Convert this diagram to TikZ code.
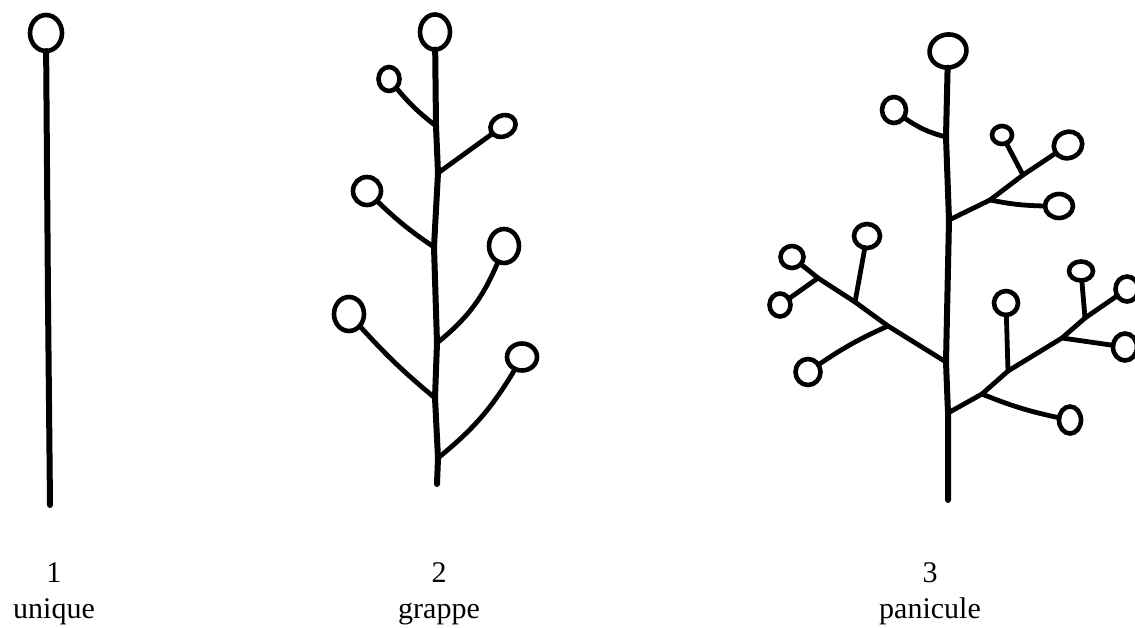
\documentclass[tikz,border=0pt]{standalone}
\usepackage{fontspec}
\setmainfont{Liberation Serif}
\usetikzlibrary{shapes.geometric}

\begin{document}
\begin{tikzpicture}[
    x=0.5pt, y=-0.5pt,
    stem/.style={line width=3pt, line cap=round, line join=round},
    twig/.style={line width=2.4pt, line cap=round},
    bud/.style={ellipse, draw, line width=2.3pt, inner sep=0pt, outer sep=0pt},
    caption/.style={align=center, anchor=base, font=\fontsize{15}{18}\selectfont}
  ]
  \useasboundingbox (0,0) rectangle (1135,627);

  % 1 - single flower
  \node[bud, minimum width=16pt, minimum height=18pt] (u0) at (46,33) {};
  \coordinate (ubase) at (50,505);
  \draw[stem] (u0) -- (48,300) -- (ubase);

  % 2 - raceme
  \node[bud, minimum width=15pt, minimum height=17.5pt] (g0) at (435,32) {};
  \node[bud, minimum width=10.5pt, minimum height=12pt] (g1) at (389,79) {};
  \node[bud, minimum width=13pt, minimum height=10.5pt, rotate=25] (g2) at (503,126) {};
  \node[bud, minimum width=14pt, minimum height=14pt] (g3) at (367,191) {};
  \node[bud, minimum width=15pt, minimum height=17pt] (g4) at (504,246) {};
  \node[bud, minimum width=15pt, minimum height=17pt] (g5) at (349,314) {};
  \node[bud, minimum width=15pt, minimum height=13.5pt] (g6) at (522,357) {};

  \coordinate (gj1) at (436,126);
  \coordinate (gj2) at (438,173);
  \coordinate (gj3) at (434,247);
  \coordinate (gj4) at (437,343);
  \coordinate (gj5) at (435,398);
  \coordinate (gj6) at (438,458);
  \coordinate (gbase) at (437,484);

  \draw[stem] (g0) -- (gj1) -- (gj2) -- (gj3) -- (gj4) -- (gj5) -- (gj6) -- (gbase);
  \draw[twig] (gj1) to[bend left=6] (g1);
  \draw[twig] (gj2) to (g2);
  \draw[twig] (gj3) to[bend left=5] (g3);
  \draw[twig] (gj4) to[bend right=14] (g4);
  \draw[twig] (gj5) to[bend left=4] (g5);
  \draw[twig] (gj6) to[bend right=10] (g6);

  % 3 - panicle
  \node[bud, minimum width=18.5pt, minimum height=16.5pt, rotate=10] (p0) at (948,51) {};
  \node[bud, minimum width=12pt, minimum height=13pt] (pA) at (894,110) {};

  \node[bud, minimum width=14.5pt, minimum height=13pt, rotate=25] (pB) at (1068,145) {};
  \node[bud, minimum width=10pt, minimum height=9pt] (pB1) at (1002,135) {};
  \node[bud, minimum width=14pt, minimum height=12pt] (pB2) at (1059,206) {};

  \node[bud, minimum width=11.5pt, minimum height=11pt] (pC) at (792,257) {};
  \node[bud, minimum width=13pt, minimum height=12pt] (pC1) at (867,236) {};
  \node[bud, minimum width=10.5pt, minimum height=11.5pt] (pC2) at (780,305) {};
  \node[bud, minimum width=12.5pt, minimum height=13pt] (pC3) at (808,372) {};

  \node[bud, minimum width=11.5pt, minimum height=12.5pt] (pD) at (1127,289) {};
  \node[bud, minimum width=12pt, minimum height=12pt] (pD1) at (1006,303) {};
  \node[bud, minimum width=12pt, minimum height=9.5pt] (pD2) at (1081,271) {};
  \node[bud, minimum width=12pt, minimum height=13.5pt] (pD3) at (1125,347) {};
  \node[bud, minimum width=11pt, minimum height=13.5pt] (pD4) at (1070,420) {};

  \coordinate (pjA) at (946,137);
  \coordinate (pjB) at (949,220);
  \coordinate (pjC) at (946,362);
  \coordinate (pjD) at (948,413);
  \coordinate (pbase) at (948,500);

  \coordinate (jB1) at (1023,175);
  \coordinate (jB2) at (990,200);
  \coordinate (jC1) at (855,302);
  \coordinate (jC2) at (818,278);
  \coordinate (jC3) at (888,326);
  \coordinate (jD1) at (1008,371);
  \coordinate (jD2) at (1085,318);
  \coordinate (jD3) at (1062,338);
  \coordinate (jD4) at (982,394);

  \draw[stem] (p0) -- (pjA) -- (pjB) -- (pjC) -- (pjD) -- (pbase);
  \draw[twig] (pjA) to[bend left=10] (pA);

  \draw[twig, line join=round] (pjB) -- (jB2) -- (jB1) -- (pB);
  \draw[twig] (jB1) -- (pB1);
  \draw[twig] (jB2) to[bend right=5] (pB2);

  \draw[twig, line join=round] (pjC) -- (jC3) -- (jC1) -- (jC2) -- (pC);
  \draw[twig] (jC1) -- (pC1);
  \draw[twig] (jC2) -- (pC2);
  \draw[twig] (jC3) to[bend right=5] (pC3);

  \draw[twig, line join=round] (pjD) -- (jD4) -- (jD1) -- (jD3) -- (jD2) -- (pD);
  \draw[twig] (jD1) -- (pD1);
  \draw[twig] (jD2) -- (pD2);
  \draw[twig] (jD3) -- (pD3);
  \draw[twig] (jD4) to[bend right=5] (pD4);

  % captions (base = baseline of the name line)
  \node[caption] (lab1) at (54,618) {1\\unique};
  \node[caption] (lab2) at (439,618) {2\\grappe};
  \node[caption] (lab3) at (930,618) {3\\panicule};
\end{tikzpicture}
\end{document}
